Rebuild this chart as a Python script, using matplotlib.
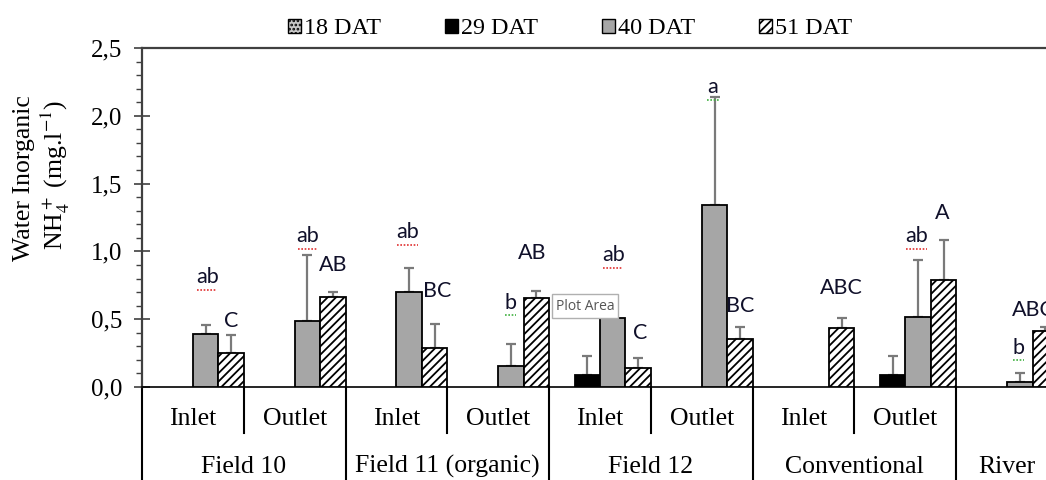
import numpy as np
import matplotlib
matplotlib.use("Agg")
import matplotlib.pyplot as plt
import matplotlib.transforms as mtrans
from matplotlib.patches import Patch

# sub-category / group labels
sub_labels = ["Inlet", "Outlet", "Inlet", "Outlet", "Inlet", "Outlet", "Inlet", "Outlet", ""]
groups = ["Field 10", "Field 11 (organic)", "Field 12", "Conventional", "River"]
group_span = [2, 2, 2, 2, 1]
series = ["18 DAT", "29 DAT", "40 DAT", "51 DAT"]

nan = np.nan
# mean values (mg/l) per sub-category
dat18 = [nan, nan, nan, nan, nan, nan, nan, nan, nan]
dat29 = [nan, nan, nan, nan, 0.086, nan, nan, 0.086, nan]
dat40 = [0.39, 0.49, 0.70, 0.155, 0.51, 1.34, nan, 0.516, 0.034]
dat51 = [0.25, 0.665, 0.29, 0.66, 0.14, 0.355, 0.435, 0.79, 0.41]
# top of the (upper) error bar
top29 = [nan, nan, nan, nan, 0.23, nan, nan, 0.23, nan]
top40 = [0.46, 0.97, 0.88, 0.32, nan, 2.14, nan, 0.935, 0.103]
top51 = [0.38, 0.70, 0.467, 0.71, 0.214, 0.44, 0.51, 1.083, 0.445]

# significance letters
letters = ["ab", "C", "ab", "AB", "ab", "BC", "b", "AB", "ab", "C", "a", "BC",
           "ABC", "ab", "A", "b", "ABC"]
letter_x = [0.64, 0.875, 1.63, 1.876, 2.61, 2.90, 3.62, 3.83, 4.63, 4.89, 5.61,
            5.88, 6.87, 7.61, 7.86, 8.61, 8.76]
letter_y = [0.81, 0.49, 1.11, 0.90, 1.14, 0.71, 0.62, 0.99, 0.97, 0.40, 2.21,
            0.60, 0.73, 1.11, 1.28, 0.29, 0.57]

serif = "Liberation Serif"
plt.rcParams["hatch.linewidth"] = 1.3

fig = plt.figure(figsize=(10.46, 4.8), dpi=100)
ax = fig.add_axes([142 / 1046, 93 / 480, 916 / 1046, 339 / 480])

n = len(sub_labels)
x0 = np.arange(n)
w = 0.25
styles = [
    dict(color="#c8c8c8", hatch="...."),
    dict(color="black", hatch=None),
    dict(color="#a6a6a6", hatch=None),
    dict(color="white", hatch="////"),
]
vals = [dat18, dat29, dat40, dat51]
tops = [None, top29, top40, top51]
for k, (v, st) in enumerate(zip(vals, styles)):
    xs = x0 + w / 2 + k * w
    v = np.array(v, dtype=float)
    ax.bar(xs, v, width=w, color=st["color"], hatch=st["hatch"],
           edgecolor="black", linewidth=1.3, zorder=3)
    if tops[k] is not None:
        t = np.array(tops[k], dtype=float)
        err = t - v
        ax.errorbar(xs, v, yerr=[np.zeros(n), err], fmt="none", ecolor="#7a7a7a",
                    elinewidth=1.6, capsize=3.8, capthick=1.6, zorder=2)

ax.set_xlim(0, n)
ax.set_ylim(0, 2.5)
ax.set_yticks(np.arange(0, 2.51, 0.5))
ax.set_yticks(np.arange(0, 2.51, 0.1), minor=True)
ax.set_yticklabels([f"{t:.1f}".replace(".", ",") for t in np.arange(0, 2.51, 0.5)],
                   fontfamily=serif, fontsize=18)
ax.tick_params(axis="y", which="major", direction="inout", length=12, width=1.2,
               color="#404040", pad=8)
ax.tick_params(axis="y", which="minor", direction="out", length=4.5, width=1.0,
               color="#404040")
ax.set_xticks([])
for s in ["left", "top", "right"]:
    ax.spines[s].set_color("#404040")
    ax.spines[s].set_linewidth(1.6)
ax.spines["bottom"].set_color("black")
ax.spines["bottom"].set_linewidth(1.2)

# category axis below the plot
tr = mtrans.blended_transform_factory(ax.transData, ax.transAxes)
for i in range(n):
    ax.text(i + 0.5, -0.095, sub_labels[i], transform=tr, ha="center", va="center",
            fontfamily=serif, fontsize=18.5)
pos = 0
for g, span in zip(groups, group_span):
    ax.plot([pos, pos], [0, -0.32], transform=tr, color="black", lw=1.5, clip_on=False)
    if span == 2:
        ax.plot([pos + 1, pos + 1], [0, -0.137], transform=tr, color="black", lw=1.5,
                clip_on=False)
    ax.text(pos + span / 2, -0.235, g, transform=tr, ha="center", va="center",
            fontfamily=serif, fontsize=18.5)
    pos += span

# letters with the spell-check underlines
for txt, lx, ly in zip(letters, letter_x, letter_y):
    ax.text(lx, ly, txt, ha="center", va="center", fontfamily="Lato", fontsize=15.5,
            color="#10102a", zorder=5)
    if txt.islower():
        col = "#e03030" if txt == "ab" else "#40b040"
        half = 0.1 if txt == "ab" else 0.055
        off = mtrans.offset_copy(ax.transData, fig=fig, x=0, y=-9, units="points")
        ax.plot([lx - half, lx + half], [ly, ly], transform=off, color=col, lw=1.2,
                ls=(0, (1, 1)), zorder=5, clip_on=False)

# y label
fig.text(24 / 1046, 1 - 178 / 480, "Water Inorganic", rotation=90, ha="center",
         va="center", fontfamily=serif, fontsize=18.5)
fig.text(55 / 1046, 1 - 175 / 480, r"NH$_4^+$ (mg.l$^{-1}$)", rotation=90,
         ha="center", va="center", fontfamily=serif, fontsize=18.5,
         math_fontfamily="stix")

# legend
handles = [Patch(facecolor=st["color"], hatch=st["hatch"], edgecolor="black",
                 linewidth=1.0) for st in styles]
fig.legend(handles, series, ncol=4, loc="center", bbox_to_anchor=(570 / 1046, 1 - 29 / 480),
           frameon=False, handlelength=0.54, handleheight=0.54, handletextpad=0.12,
           columnspacing=2.64, prop={"family": serif, "size": 17.4})

# screenshot tooltip
fig.text(585 / 1046, 1 - 306 / 480, "Plot Area", ha="center", va="center",
         fontfamily="Open Sans", fontsize=10, color="#555555",
         bbox=dict(boxstyle="square,pad=0.3", facecolor="white", edgecolor="#b0b0b0",
                   linewidth=1.0), zorder=10)

fig.savefig("out.png", dpi=100)
